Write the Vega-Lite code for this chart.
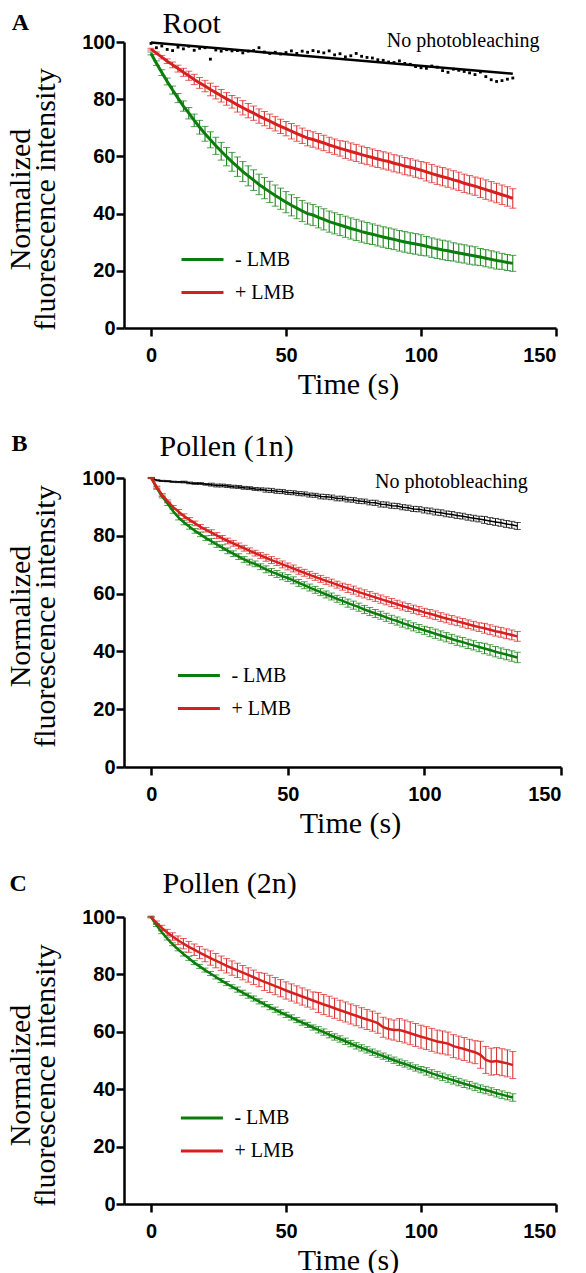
{
"$schema": "https://vega.github.io/schema/vega-lite/v6.json",
"background": "white",
"padding": {"left": 5, "top": 9, "right": 0, "bottom": 0},
"config": {
"view": {"stroke": null},
"axis": {"labelFont": "Liberation Sans", "labelFontWeight": "bold", "labelFontSize": 20, "labelColor": "black", "domainColor": "black", "domainWidth": 2.5, "tickColor": "black", "tickWidth": 2.5, "tickSize": 8, "grid": false, "titleFont": "Liberation Serif", "titleFontSize": 30, "titleFontWeight": "normal", "titleColor": "black"},
"axisY": {"labelPadding": 1, "titlePadding": 21, "titleLineHeight": 25},
"axisX": {"labelPadding": 9, "titlePadding": 4},
"legend": {"title": null, "orient": "none", "symbolType": "stroke", "symbolSize": 1764, "symbolStrokeWidth": 3, "labelFont": "Liberation Serif", "labelFontSize": 20, "labelColor": "black", "labelOffset": 10, "rowPadding": -9, "padding": 0}
},
"datasets": {
"A": [
{"t":0,"g":96.0,"ge":0.5,"r":97.5,"re":0.3,"k":99.5},
{"t":2,"g":92.6,"ge":0.8,"r":96.1,"re":0.4,"k":98.0},
{"t":4,"g":89.3,"ge":1.0,"r":94.7,"re":0.6,"k":98.6},
{"t":6,"g":86.2,"ge":1.2,"r":93.3,"re":0.8,"k":97.4},
{"t":8,"g":83.2,"ge":1.4,"r":92.0,"re":1.0,"k":97.0},
{"t":10,"g":80.4,"ge":1.6,"r":90.7,"re":1.2,"k":98.2},
{"t":12,"g":77.6,"ge":1.8,"r":89.4,"re":1.4,"k":97.6},
{"t":14,"g":75.1,"ge":2.0,"r":88.2,"re":1.6,"k":98.5},
{"t":16,"g":72.6,"ge":2.2,"r":86.9,"re":1.8,"k":97.1},
{"t":18,"g":70.2,"ge":2.4,"r":85.7,"re":1.9,"k":97.8},
{"t":20,"g":67.9,"ge":2.6,"r":84.6,"re":2.0,"k":98.0},
{"t":22,"g":65.8,"ge":2.8,"r":83.4,"re":2.2,"k":94.0},
{"t":24,"g":63.7,"ge":3.0,"r":82.3,"re":2.2,"k":97.2},
{"t":26,"g":61.8,"ge":3.1,"r":81.2,"re":2.2,"k":96.8},
{"t":28,"g":59.9,"ge":3.2,"r":80.1,"re":2.2,"k":97.3},
{"t":30,"g":58.1,"ge":3.3,"r":79.1,"re":2.2,"k":96.9},
{"t":32,"g":56.4,"ge":3.4,"r":78.0,"re":2.5,"k":97.0},
{"t":34,"g":54.7,"ge":3.5,"r":77.0,"re":2.5,"k":96.2},
{"t":36,"g":53.2,"ge":3.5,"r":76.0,"re":2.5,"k":96.8},
{"t":38,"g":51.7,"ge":3.6,"r":75.1,"re":2.5,"k":97.0},
{"t":40,"g":50.2,"ge":3.6,"r":74.1,"re":2.5,"k":98.0},
{"t":42,"g":48.9,"ge":3.7,"r":73.2,"re":2.5,"k":96.5},
{"t":44,"g":47.6,"ge":3.7,"r":72.3,"re":2.5,"k":96.0},
{"t":46,"g":46.3,"ge":3.7,"r":71.4,"re":2.5,"k":96.4},
{"t":48,"g":45.2,"ge":3.7,"r":70.5,"re":2.5,"k":95.8},
{"t":50,"g":44.0,"ge":3.7,"r":69.7,"re":2.5,"k":96.3},
{"t":52,"g":42.9,"ge":3.7,"r":68.8,"re":2.7,"k":96.9},
{"t":54,"g":41.9,"ge":3.7,"r":68.0,"re":2.7,"k":96.0},
{"t":56,"g":40.9,"ge":3.7,"r":67.2,"re":2.7,"k":96.8},
{"t":58,"g":40.0,"ge":3.7,"r":66.4,"re":2.7,"k":96.4},
{"t":60,"g":39.5,"ge":3.7,"r":65.9,"re":2.7,"k":97.0},
{"t":62,"g":38.7,"ge":3.7,"r":65.3,"re":2.7,"k":96.6},
{"t":64,"g":38.0,"ge":3.7,"r":64.7,"re":2.7,"k":96.2},
{"t":66,"g":37.2,"ge":3.7,"r":64.0,"re":2.7,"k":96.9},
{"t":68,"g":36.6,"ge":3.7,"r":63.4,"re":2.7,"k":95.5},
{"t":70,"g":36.0,"ge":3.7,"r":62.8,"re":2.7,"k":95.9},
{"t":72,"g":35.4,"ge":3.7,"r":62.3,"re":3.0,"k":94.8},
{"t":74,"g":34.8,"ge":3.7,"r":61.7,"re":3.0,"k":95.2},
{"t":76,"g":34.3,"ge":3.7,"r":61.2,"re":3.0,"k":96.0},
{"t":78,"g":33.7,"ge":3.7,"r":60.6,"re":3.0,"k":95.0},
{"t":80,"g":33.2,"ge":3.7,"r":60.1,"re":3.0,"k":94.6},
{"t":82,"g":32.8,"ge":3.6,"r":59.6,"re":3.0,"k":94.4},
{"t":84,"g":32.3,"ge":3.6,"r":59.1,"re":3.0,"k":93.8},
{"t":86,"g":31.8,"ge":3.6,"r":58.6,"re":3.0,"k":93.6},
{"t":88,"g":31.4,"ge":3.6,"r":58.2,"re":3.0,"k":93.0},
{"t":90,"g":31.0,"ge":3.6,"r":57.6,"re":3.0,"k":92.8},
{"t":92,"g":30.5,"ge":3.6,"r":57.2,"re":3.0,"k":93.4},
{"t":94,"g":30.1,"ge":3.6,"r":56.6,"re":3.0,"k":92.5},
{"t":96,"g":29.7,"ge":3.6,"r":56.2,"re":3.0,"k":92.2},
{"t":98,"g":29.4,"ge":3.6,"r":55.7,"re":3.0,"k":91.4},
{"t":100,"g":29.0,"ge":3.6,"r":55.2,"re":3.0,"k":91.0},
{"t":102,"g":28.6,"ge":3.4,"r":54.6,"re":3.2,"k":90.8},
{"t":104,"g":28.1,"ge":3.4,"r":54.0,"re":3.2,"k":91.6},
{"t":106,"g":27.7,"ge":3.4,"r":53.4,"re":3.2,"k":91.2},
{"t":108,"g":27.3,"ge":3.4,"r":52.9,"re":3.2,"k":90.0},
{"t":110,"g":27.0,"ge":3.4,"r":52.4,"re":3.2,"k":89.4},
{"t":112,"g":26.6,"ge":3.2,"r":51.8,"re":3.2,"k":90.5},
{"t":114,"g":26.2,"ge":3.2,"r":51.3,"re":3.2,"k":90.1},
{"t":116,"g":25.9,"ge":3.2,"r":50.6,"re":3.2,"k":89.7},
{"t":118,"g":25.5,"ge":3.2,"r":50.1,"re":3.2,"k":89.2},
{"t":120,"g":25.2,"ge":3.2,"r":49.6,"re":3.2,"k":88.6},
{"t":122,"g":24.8,"ge":3.0,"r":49.0,"re":3.4,"k":89.5},
{"t":124,"g":24.4,"ge":3.0,"r":48.4,"re":3.4,"k":87.9},
{"t":126,"g":24.0,"ge":3.0,"r":47.8,"re":3.4,"k":86.8},
{"t":128,"g":23.6,"ge":3.0,"r":47.2,"re":3.4,"k":86.2},
{"t":130,"g":23.3,"ge":2.8,"r":46.6,"re":3.4,"k":86.5},
{"t":132,"g":22.9,"ge":2.8,"r":46.0,"re":3.4,"k":87.0},
{"t":134,"g":22.6,"ge":2.8,"r":45.3,"re":3.4,"k":87.4}
],
"Afit": [{"t":0,"k":99.8},{"t":134,"k":88.9}],
"B": [
{"t":0,"g":100.0,"ge":0.2,"r":100.0,"re":0.2,"k":100.0,"ke":0.1},
{"t":2,"g":96.5,"ge":0.4,"r":96.8,"re":0.4,"k":99.2,"ke":0.2},
{"t":4,"g":93.6,"ge":0.5,"r":94.1,"re":0.5,"k":99.0,"ke":0.2},
{"t":6,"g":91.1,"ge":0.6,"r":91.9,"re":0.5,"k":98.9,"ke":0.2},
{"t":8,"g":88.5,"ge":0.7,"r":89.9,"re":0.6,"k":98.7,"ke":0.2},
{"t":10,"g":86.3,"ge":0.8,"r":88.3,"re":0.8,"k":98.6,"ke":0.2},
{"t":12,"g":84.6,"ge":0.8,"r":86.8,"re":0.8,"k":98.6,"ke":0.3},
{"t":14,"g":83.1,"ge":0.8,"r":85.5,"re":0.8,"k":98.3,"ke":0.3},
{"t":16,"g":81.7,"ge":0.8,"r":84.3,"re":0.8,"k":98.1,"ke":0.3},
{"t":18,"g":80.5,"ge":0.8,"r":83.1,"re":0.8,"k":98.1,"ke":0.3},
{"t":20,"g":79.2,"ge":0.8,"r":82.1,"re":0.8,"k":97.8,"ke":0.3},
{"t":22,"g":78.1,"ge":1.0,"r":81.1,"re":1.0,"k":97.7,"ke":0.5},
{"t":24,"g":77.0,"ge":1.0,"r":80.1,"re":1.0,"k":97.4,"ke":0.5},
{"t":26,"g":75.9,"ge":1.0,"r":79.1,"re":1.0,"k":97.4,"ke":0.5},
{"t":28,"g":74.8,"ge":1.0,"r":78.2,"re":1.0,"k":97.2,"ke":0.5},
{"t":30,"g":73.8,"ge":1.0,"r":77.4,"re":1.0,"k":97.0,"ke":0.5},
{"t":32,"g":72.8,"ge":1.0,"r":76.5,"re":1.0,"k":96.9,"ke":0.5},
{"t":34,"g":71.8,"ge":1.0,"r":75.7,"re":1.0,"k":96.6,"ke":0.5},
{"t":36,"g":70.9,"ge":1.0,"r":74.8,"re":1.0,"k":96.5,"ke":0.5},
{"t":38,"g":70.3,"ge":1.0,"r":74.0,"re":1.0,"k":96.2,"ke":0.5},
{"t":40,"g":69.3,"ge":1.0,"r":73.2,"re":1.0,"k":96.1,"ke":0.5},
{"t":42,"g":68.4,"ge":1.2,"r":72.4,"re":1.2,"k":95.8,"ke":0.7},
{"t":44,"g":67.5,"ge":1.2,"r":71.6,"re":1.2,"k":95.7,"ke":0.7},
{"t":46,"g":66.8,"ge":1.2,"r":70.9,"re":1.2,"k":95.4,"ke":0.7},
{"t":48,"g":66.0,"ge":1.2,"r":70.1,"re":1.2,"k":95.3,"ke":0.7},
{"t":50,"g":65.4,"ge":1.2,"r":69.4,"re":1.2,"k":95.0,"ke":0.7},
{"t":52,"g":64.6,"ge":1.2,"r":68.7,"re":1.2,"k":94.9,"ke":0.7},
{"t":54,"g":63.7,"ge":1.2,"r":67.9,"re":1.2,"k":94.6,"ke":0.7},
{"t":56,"g":62.9,"ge":1.2,"r":67.2,"re":1.2,"k":94.5,"ke":0.7},
{"t":58,"g":62.1,"ge":1.2,"r":66.5,"re":1.2,"k":94.1,"ke":0.7},
{"t":60,"g":61.3,"ge":1.2,"r":65.8,"re":1.2,"k":94.0,"ke":0.7},
{"t":62,"g":60.5,"ge":1.2,"r":65.1,"re":1.2,"k":93.6,"ke":0.8},
{"t":64,"g":59.7,"ge":1.2,"r":64.4,"re":1.2,"k":93.5,"ke":0.8},
{"t":66,"g":59.0,"ge":1.2,"r":63.8,"re":1.2,"k":93.3,"ke":0.8},
{"t":68,"g":58.2,"ge":1.2,"r":63.1,"re":1.2,"k":92.9,"ke":0.8},
{"t":70,"g":57.5,"ge":1.2,"r":62.4,"re":1.2,"k":92.9,"ke":0.8},
{"t":72,"g":56.7,"ge":1.4,"r":61.8,"re":1.4,"k":92.5,"ke":0.8},
{"t":74,"g":56.0,"ge":1.4,"r":61.2,"re":1.4,"k":92.4,"ke":0.8},
{"t":76,"g":55.3,"ge":1.4,"r":60.5,"re":1.4,"k":92.0,"ke":0.8},
{"t":78,"g":54.5,"ge":1.4,"r":59.9,"re":1.4,"k":91.9,"ke":0.8},
{"t":80,"g":53.8,"ge":1.4,"r":59.3,"re":1.4,"k":91.5,"ke":0.8},
{"t":82,"g":53.1,"ge":1.4,"r":58.7,"re":1.4,"k":91.4,"ke":0.9},
{"t":84,"g":52.5,"ge":1.4,"r":58.1,"re":1.4,"k":90.9,"ke":0.9},
{"t":86,"g":51.8,"ge":1.4,"r":57.5,"re":1.4,"k":90.8,"ke":0.9},
{"t":88,"g":51.1,"ge":1.4,"r":56.9,"re":1.4,"k":90.4,"ke":0.9},
{"t":90,"g":50.5,"ge":1.4,"r":56.3,"re":1.4,"k":90.3,"ke":0.9},
{"t":92,"g":49.8,"ge":1.4,"r":55.7,"re":1.4,"k":89.9,"ke":0.9},
{"t":94,"g":49.2,"ge":1.4,"r":55.2,"re":1.4,"k":89.7,"ke":0.9},
{"t":96,"g":48.5,"ge":1.4,"r":54.6,"re":1.4,"k":89.3,"ke":0.9},
{"t":98,"g":47.9,"ge":1.4,"r":54.1,"re":1.4,"k":89.2,"ke":0.9},
{"t":100,"g":47.3,"ge":1.4,"r":53.5,"re":1.4,"k":88.8,"ke":0.9},
{"t":102,"g":46.7,"ge":1.6,"r":53.0,"re":1.5,"k":88.6,"ke":1.0},
{"t":104,"g":46.1,"ge":1.6,"r":52.5,"re":1.5,"k":88.2,"ke":1.0},
{"t":106,"g":45.5,"ge":1.6,"r":51.9,"re":1.5,"k":88.0,"ke":1.0},
{"t":108,"g":44.9,"ge":1.6,"r":51.4,"re":1.5,"k":87.6,"ke":1.0},
{"t":110,"g":44.3,"ge":1.6,"r":50.9,"re":1.5,"k":87.4,"ke":1.0},
{"t":112,"g":43.7,"ge":1.6,"r":50.4,"re":1.5,"k":87.0,"ke":1.0},
{"t":114,"g":43.2,"ge":1.6,"r":49.9,"re":1.5,"k":86.8,"ke":1.0},
{"t":116,"g":42.6,"ge":1.6,"r":49.4,"re":1.5,"k":86.4,"ke":1.0},
{"t":118,"g":42.1,"ge":1.6,"r":48.9,"re":1.5,"k":86.1,"ke":1.0},
{"t":120,"g":41.5,"ge":1.6,"r":48.4,"re":1.5,"k":85.8,"ke":1.0},
{"t":122,"g":41.0,"ge":1.8,"r":48.0,"re":1.7,"k":85.5,"ke":1.2},
{"t":124,"g":40.5,"ge":1.8,"r":47.5,"re":1.7,"k":85.1,"ke":1.2},
{"t":126,"g":39.9,"ge":1.8,"r":47.0,"re":1.7,"k":84.8,"ke":1.2},
{"t":128,"g":39.4,"ge":1.8,"r":46.6,"re":1.7,"k":84.5,"ke":1.2},
{"t":130,"g":38.9,"ge":1.8,"r":46.1,"re":1.7,"k":84.1,"ke":1.2},
{"t":132,"g":38.4,"ge":1.8,"r":45.7,"re":1.7,"k":83.8,"ke":1.2},
{"t":134,"g":37.9,"ge":1.8,"r":45.2,"re":1.7,"k":83.4,"ke":1.2}
],
"C": [
{"t":0,"g":100.0,"ge":0.2,"r":100.0,"re":0.3},
{"t":2,"g":97.2,"ge":0.5,"r":98.0,"re":0.6},
{"t":4,"g":94.7,"ge":0.5,"r":96.2,"re":0.9},
{"t":6,"g":92.5,"ge":0.5,"r":94.6,"re":1.1},
{"t":8,"g":90.5,"ge":0.5,"r":93.2,"re":1.3},
{"t":10,"g":88.7,"ge":0.5,"r":91.9,"re":1.5},
{"t":12,"g":87.1,"ge":0.7,"r":90.7,"re":1.8},
{"t":14,"g":85.6,"ge":0.7,"r":89.6,"re":1.9},
{"t":16,"g":84.1,"ge":0.7,"r":88.6,"re":2.0},
{"t":18,"g":82.8,"ge":0.7,"r":87.6,"re":2.1},
{"t":20,"g":81.5,"ge":0.7,"r":86.6,"re":2.2},
{"t":22,"g":80.3,"ge":0.7,"r":85.7,"re":2.5},
{"t":24,"g":79.1,"ge":0.7,"r":84.8,"re":2.5},
{"t":26,"g":77.9,"ge":0.7,"r":83.9,"re":2.5},
{"t":28,"g":76.8,"ge":0.7,"r":83.0,"re":2.5},
{"t":30,"g":75.7,"ge":0.7,"r":82.2,"re":2.5},
{"t":32,"g":74.7,"ge":0.9,"r":81.4,"re":2.5},
{"t":34,"g":73.6,"ge":0.9,"r":80.6,"re":2.5},
{"t":36,"g":72.6,"ge":0.9,"r":79.8,"re":2.5},
{"t":38,"g":71.6,"ge":0.9,"r":79.0,"re":2.5},
{"t":40,"g":70.6,"ge":0.9,"r":78.2,"re":2.5},
{"t":42,"g":69.6,"ge":0.9,"r":77.4,"re":3.0},
{"t":44,"g":68.6,"ge":0.9,"r":76.7,"re":3.0},
{"t":46,"g":67.7,"ge":0.9,"r":75.9,"re":3.0},
{"t":48,"g":66.8,"ge":0.9,"r":75.2,"re":3.0},
{"t":50,"g":65.9,"ge":0.9,"r":74.4,"re":3.0},
{"t":52,"g":65.0,"ge":0.9,"r":73.7,"re":3.0},
{"t":54,"g":64.1,"ge":0.9,"r":73.0,"re":3.0},
{"t":56,"g":63.2,"ge":0.9,"r":72.3,"re":3.0},
{"t":58,"g":62.4,"ge":0.9,"r":71.6,"re":3.0},
{"t":60,"g":61.5,"ge":0.9,"r":70.9,"re":3.0},
{"t":62,"g":60.7,"ge":1.1,"r":70.2,"re":3.5},
{"t":64,"g":59.9,"ge":1.1,"r":69.5,"re":3.5},
{"t":66,"g":59.0,"ge":1.1,"r":68.9,"re":3.5},
{"t":68,"g":58.2,"ge":1.1,"r":68.2,"re":3.5},
{"t":70,"g":57.5,"ge":1.1,"r":67.5,"re":3.5},
{"t":72,"g":56.7,"ge":1.1,"r":66.9,"re":3.5},
{"t":74,"g":55.9,"ge":1.1,"r":66.2,"re":3.5},
{"t":76,"g":55.1,"ge":1.1,"r":65.6,"re":3.5},
{"t":78,"g":54.4,"ge":1.1,"r":64.9,"re":3.5},
{"t":80,"g":53.7,"ge":1.1,"r":64.3,"re":3.5},
{"t":82,"g":52.9,"ge":1.1,"r":63.7,"re":3.5},
{"t":84,"g":52.2,"ge":1.1,"r":63.0,"re":3.5},
{"t":86,"g":51.5,"ge":1.1,"r":61.6,"re":3.5},
{"t":88,"g":50.8,"ge":1.1,"r":61.0,"re":3.5},
{"t":90,"g":50.1,"ge":1.1,"r":60.6,"re":3.5},
{"t":92,"g":49.4,"ge":1.1,"r":60.6,"re":4.0},
{"t":94,"g":48.8,"ge":1.1,"r":60.1,"re":4.0},
{"t":96,"g":48.1,"ge":1.1,"r":59.5,"re":4.0},
{"t":98,"g":47.4,"ge":1.1,"r":58.9,"re":4.0},
{"t":100,"g":46.8,"ge":1.1,"r":58.3,"re":4.0},
{"t":102,"g":46.2,"ge":1.3,"r":57.8,"re":4.0},
{"t":104,"g":45.5,"ge":1.3,"r":57.2,"re":4.0},
{"t":106,"g":44.9,"ge":1.3,"r":56.6,"re":4.0},
{"t":108,"g":44.3,"ge":1.3,"r":56.3,"re":4.0},
{"t":110,"g":43.7,"ge":1.3,"r":55.9,"re":4.0},
{"t":112,"g":43.1,"ge":1.3,"r":55.0,"re":4.0},
{"t":114,"g":42.5,"ge":1.3,"r":54.5,"re":4.0},
{"t":116,"g":41.9,"ge":1.3,"r":54.0,"re":4.0},
{"t":118,"g":41.4,"ge":1.3,"r":53.4,"re":4.0},
{"t":120,"g":40.8,"ge":1.3,"r":52.9,"re":4.0},
{"t":122,"g":40.2,"ge":1.3,"r":52.0,"re":4.7},
{"t":124,"g":39.7,"ge":1.3,"r":50.2,"re":4.7},
{"t":126,"g":39.2,"ge":1.3,"r":49.6,"re":4.7},
{"t":128,"g":38.6,"ge":1.3,"r":49.8,"re":4.7},
{"t":130,"g":38.1,"ge":1.3,"r":49.4,"re":4.7},
{"t":132,"g":37.6,"ge":1.3,"r":49.0,"re":4.7},
{"t":134,"g":37.1,"ge":1.3,"r":48.4,"re":4.7}
]
},
"vconcat": [
{
"width": 432, "height": 286,
"data": {"name": "A"},
"encoding": {"x": {"field": "t", "type": "quantitative", "scale": {"domain": [-10, 150], "nice": false, "zero": false}, "axis": {"values": [0, 50, 100, 150], "title": "Time (s)", "titleX": 224}}},
"layer": [
{"mark": {"type": "errorbar", "color": "#0b7d0b", "thickness": 1, "ticks": {"size": 7}}, "encoding": {"y": {"field": "g", "type": "quantitative", "title": ["Normalized", "fluorescence intensity"], "scale": {"domain": [0, 100]}, "axis": {"values": [0, 20, 40, 60, 80, 100], "title": ["Normalized", "fluorescence intensity"], "titleY": 157}}, "yError": {"field": "ge"}}},
{"mark": {"type": "errorbar", "color": "#d81f1f", "thickness": 1, "ticks": {"size": 7}}, "encoding": {"y": {"field": "r", "type": "quantitative", "title": ["Normalized", "fluorescence intensity"], "scale": {"domain": [0, 100]}, "axis": {"values": [0, 20, 40, 60, 80, 100], "title": ["Normalized", "fluorescence intensity"], "titleY": 157}}, "yError": {"field": "re"}}},
{"mark": {"type": "line", "strokeWidth": 3}, "encoding": {"y": {"field": "g", "type": "quantitative", "title": ["Normalized", "fluorescence intensity"], "scale": {"domain": [0, 100]}, "axis": {"values": [0, 20, 40, 60, 80, 100], "title": ["Normalized", "fluorescence intensity"], "titleY": 157}}, "color": {"datum": "- LMB", "type": "nominal", "scale": {"domain": ["- LMB", "+ LMB"], "range": ["#0b7d0b", "#d81f1f"]}, "legend": {"legendX": 56, "legendY": 195}}}},
{"mark": {"type": "line", "strokeWidth": 3}, "encoding": {"y": {"field": "r", "type": "quantitative", "title": ["Normalized", "fluorescence intensity"], "scale": {"domain": [0, 100]}, "axis": {"values": [0, 20, 40, 60, 80, 100], "title": ["Normalized", "fluorescence intensity"], "titleY": 157}}, "color": {"datum": "+ LMB", "type": "nominal"}}},
{"mark": {"type": "square", "size": 8, "color": "black", "opacity": 1}, "encoding": {"y": {"field": "k", "type": "quantitative", "title": ["Normalized", "fluorescence intensity"], "scale": {"domain": [0, 100]}, "axis": {"values": [0, 20, 40, 60, 80, 100], "title": ["Normalized", "fluorescence intensity"], "titleY": 157}}}},
{"data": {"name": "Afit"}, "mark": {"type": "line", "color": "black", "strokeWidth": 2.5}, "encoding": {"y": {"field": "k", "type": "quantitative", "title": ["Normalized", "fluorescence intensity"], "scale": {"domain": [0, 100]}, "axis": {"values": [0, 20, 40, 60, 80, 100], "title": ["Normalized", "fluorescence intensity"], "titleY": 157}}}},
{"transform": [{"filter": "datum.t === 0"}], "mark": {"type": "text", "text": "No photobleaching", "align": "left", "baseline": "alphabetic", "font": "Liberation Serif", "fontSize": 20, "color": "black"}, "encoding": {"x": {"datum": 87.3, "type": "quantitative"}, "y": {"datum": 98.1, "type": "quantitative"}}},
{"transform": [{"filter": "datum.t === 0"}], "mark": {"type": "text", "text": "A", "align": "left", "baseline": "alphabetic", "font": "Liberation Serif", "fontSize": 24, "fontWeight": "bold", "color": "black"}, "encoding": {"x": {"datum": -51.6, "type": "quantitative"}, "y": {"datum": 104.2, "type": "quantitative"}}},
{"transform": [{"filter": "datum.t === 0"}], "mark": {"type": "text", "text": "Root", "align": "left", "baseline": "alphabetic", "font": "Liberation Serif", "fontSize": 30, "color": "black"}, "encoding": {"x": {"datum": 4.3, "type": "quantitative"}, "y": {"datum": 103.0, "type": "quantitative"}}}
]
},
{
"width": 437, "height": 289,
"data": {"name": "B"},
"encoding": {"x": {"field": "t", "type": "quantitative", "scale": {"domain": [-10, 150], "nice": false, "zero": false}, "axis": {"values": [0, 50, 100, 150], "title": "Time (s)", "titleX": 226}}},
"layer": [
{"mark": {"type": "errorbar", "color": "black", "thickness": 1, "ticks": {"size": 7}}, "encoding": {"y": {"field": "k", "type": "quantitative", "title": ["Normalized", "fluorescence intensity"], "scale": {"domain": [0, 100]}, "axis": {"values": [0, 20, 40, 60, 80, 100], "title": ["Normalized", "fluorescence intensity"], "titleY": 138}}, "yError": {"field": "ke"}}},
{"mark": {"type": "line", "color": "black", "strokeWidth": 1.5}, "encoding": {"y": {"field": "k", "type": "quantitative", "title": ["Normalized", "fluorescence intensity"], "scale": {"domain": [0, 100]}, "axis": {"values": [0, 20, 40, 60, 80, 100], "title": ["Normalized", "fluorescence intensity"], "titleY": 138}}}},
{"mark": {"type": "errorbar", "color": "#0b7d0b", "thickness": 1, "ticks": {"size": 7}}, "encoding": {"y": {"field": "g", "type": "quantitative", "title": ["Normalized", "fluorescence intensity"], "scale": {"domain": [0, 100]}, "axis": {"values": [0, 20, 40, 60, 80, 100], "title": ["Normalized", "fluorescence intensity"], "titleY": 138}}, "yError": {"field": "ge"}}},
{"mark": {"type": "errorbar", "color": "#d81f1f", "thickness": 1, "ticks": {"size": 7}}, "encoding": {"y": {"field": "r", "type": "quantitative", "title": ["Normalized", "fluorescence intensity"], "scale": {"domain": [0, 100]}, "axis": {"values": [0, 20, 40, 60, 80, 100], "title": ["Normalized", "fluorescence intensity"], "titleY": 138}}, "yError": {"field": "re"}}},
{"mark": {"type": "line", "strokeWidth": 2.5}, "encoding": {"y": {"field": "g", "type": "quantitative", "title": ["Normalized", "fluorescence intensity"], "scale": {"domain": [0, 100]}, "axis": {"values": [0, 20, 40, 60, 80, 100], "title": ["Normalized", "fluorescence intensity"], "titleY": 138}}, "color": {"datum": "- LMB", "type": "nominal", "scale": {"domain": ["- LMB", "+ LMB"], "range": ["#0b7d0b", "#d81f1f"]}, "legend": {"legendX": 52.4, "legendY": 175}}}},
{"mark": {"type": "line", "strokeWidth": 2.5}, "encoding": {"y": {"field": "r", "type": "quantitative", "title": ["Normalized", "fluorescence intensity"], "scale": {"domain": [0, 100]}, "axis": {"values": [0, 20, 40, 60, 80, 100], "title": ["Normalized", "fluorescence intensity"], "titleY": 138}}, "color": {"datum": "+ LMB", "type": "nominal"}}},
{"transform": [{"filter": "datum.t === 0"}], "mark": {"type": "text", "text": "No photobleaching", "align": "left", "baseline": "alphabetic", "font": "Liberation Serif", "fontSize": 20, "color": "black"}, "encoding": {"x": {"datum": 81.9, "type": "quantitative"}, "y": {"datum": 96.6, "type": "quantitative"}}},
{"transform": [{"filter": "datum.t === 0"}], "mark": {"type": "text", "text": "B", "align": "left", "baseline": "alphabetic", "font": "Liberation Serif", "fontSize": 24, "fontWeight": "bold", "color": "black"}, "encoding": {"x": {"datum": -51.2, "type": "quantitative"}, "y": {"datum": 109.4, "type": "quantitative"}}},
{"transform": [{"filter": "datum.t === 0"}], "mark": {"type": "text", "text": "Pollen (1n)", "align": "left", "baseline": "alphabetic", "font": "Liberation Serif", "fontSize": 30, "color": "black"}, "encoding": {"x": {"datum": 3.0, "type": "quantitative"}, "y": {"datum": 107.7, "type": "quantitative"}}}
]
},
{
"width": 432, "height": 287,
"data": {"name": "C"},
"encoding": {"x": {"field": "t", "type": "quantitative", "scale": {"domain": [-10, 150], "nice": false, "zero": false}, "axis": {"values": [0, 50, 100, 150], "title": "Time (s)", "titleX": 224}}},
"layer": [
{"mark": {"type": "errorbar", "color": "#0b7d0b", "thickness": 1, "ticks": {"size": 7}}, "encoding": {"y": {"field": "g", "type": "quantitative", "title": ["Normalized", "fluorescence intensity"], "scale": {"domain": [0, 100]}, "axis": {"values": [0, 20, 40, 60, 80, 100], "title": ["Normalized", "fluorescence intensity"], "titleY": 158}}, "yError": {"field": "ge"}}},
{"mark": {"type": "errorbar", "color": "#d81f1f", "thickness": 1, "ticks": {"size": 7}}, "encoding": {"y": {"field": "r", "type": "quantitative", "title": ["Normalized", "fluorescence intensity"], "scale": {"domain": [0, 100]}, "axis": {"values": [0, 20, 40, 60, 80, 100], "title": ["Normalized", "fluorescence intensity"], "titleY": 158}}, "yError": {"field": "re"}}},
{"mark": {"type": "line", "strokeWidth": 2.5}, "encoding": {"y": {"field": "g", "type": "quantitative", "title": ["Normalized", "fluorescence intensity"], "scale": {"domain": [0, 100]}, "axis": {"values": [0, 20, 40, 60, 80, 100], "title": ["Normalized", "fluorescence intensity"], "titleY": 158}}, "color": {"datum": "- LMB", "type": "nominal", "scale": {"domain": ["- LMB", "+ LMB"], "range": ["#0b7d0b", "#d81f1f"]}, "legend": {"legendX": 55.4, "legendY": 178.4}}}},
{"mark": {"type": "line", "strokeWidth": 2.5}, "encoding": {"y": {"field": "r", "type": "quantitative", "title": ["Normalized", "fluorescence intensity"], "scale": {"domain": [0, 100]}, "axis": {"values": [0, 20, 40, 60, 80, 100], "title": ["Normalized", "fluorescence intensity"], "titleY": 158}}, "color": {"datum": "+ LMB", "type": "nominal"}}},
{"transform": [{"filter": "datum.t === 0"}], "mark": {"type": "text", "text": "C", "align": "left", "baseline": "alphabetic", "font": "Liberation Serif", "fontSize": 24, "fontWeight": "bold", "color": "black"}, "encoding": {"x": {"datum": -52.4, "type": "quantitative"}, "y": {"datum": 109.2, "type": "quantitative"}}},
{"transform": [{"filter": "datum.t === 0"}], "mark": {"type": "text", "text": "Pollen (2n)", "align": "left", "baseline": "alphabetic", "font": "Liberation Serif", "fontSize": 30, "color": "black"}, "encoding": {"x": {"datum": 4.3, "type": "quantitative"}, "y": {"datum": 108.4, "type": "quantitative"}}}
]
}
],
"spacing": 150,
"bounds": "flush",
"resolve": {"scale": {"color": "independent", "x": "independent", "y": "independent"}, "legend": {"color": "independent"}}
}
